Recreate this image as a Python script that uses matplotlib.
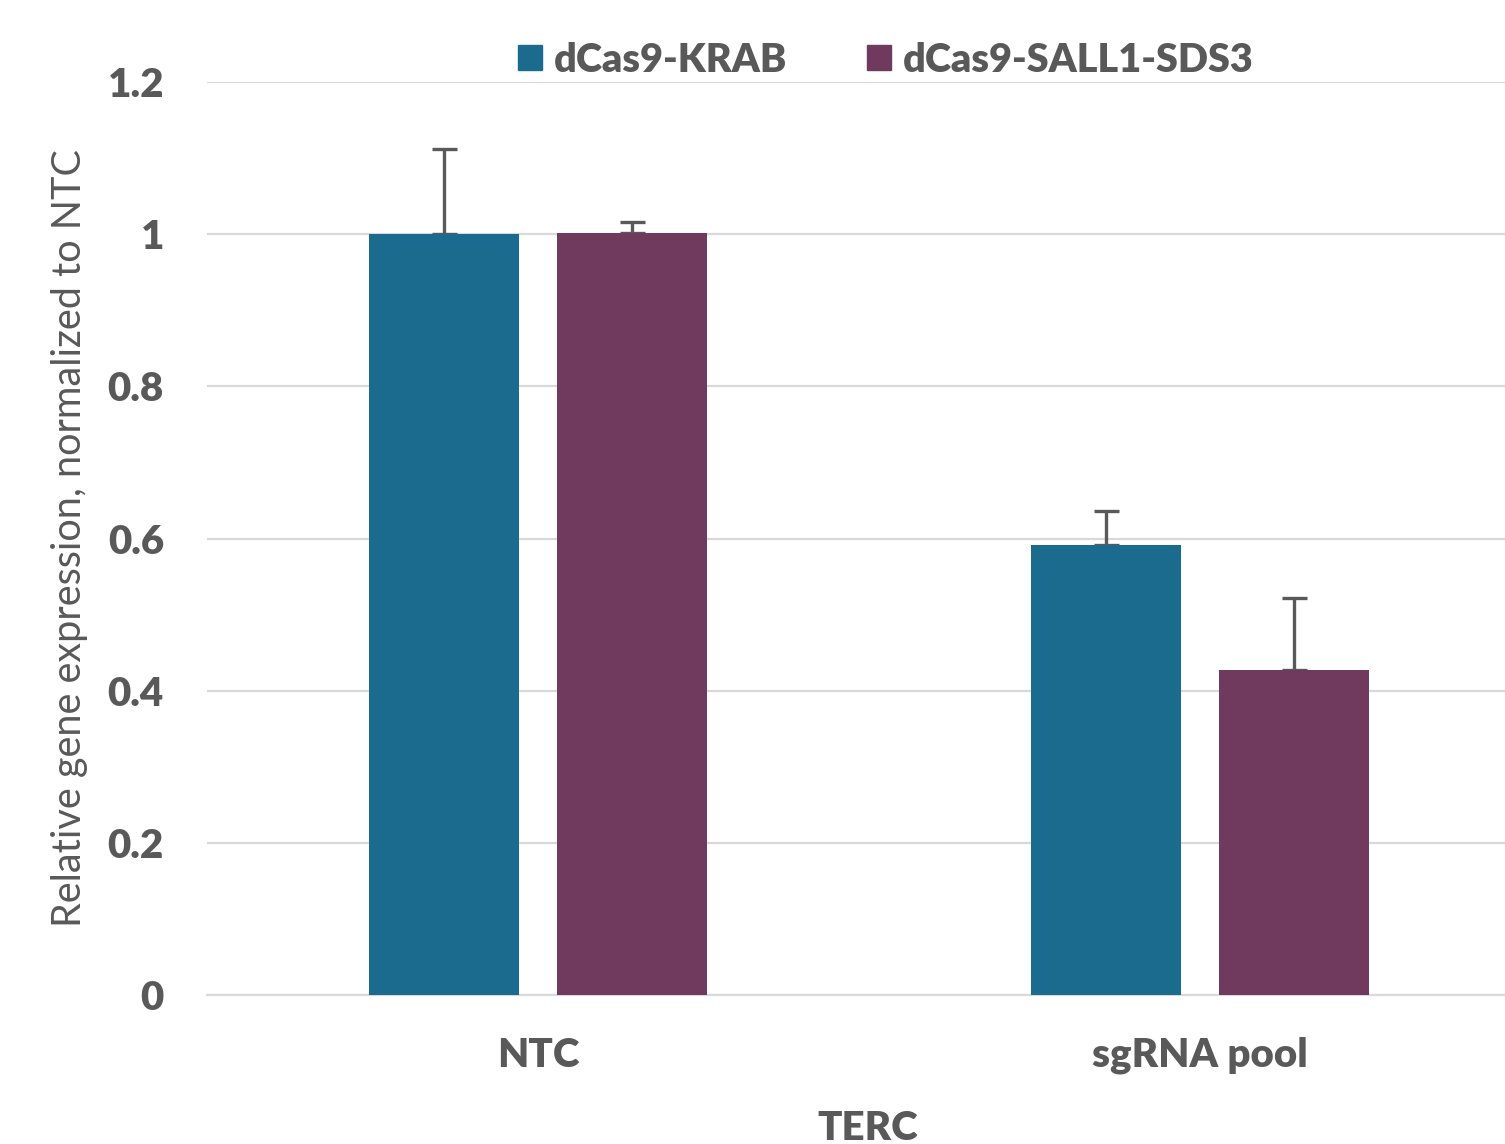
import matplotlib
matplotlib.use("Agg")
import matplotlib.pyplot as plt
from matplotlib.patches import Patch
import numpy as np

categories = ["NTC", "sgRNA pool"]
series_names = ["dCas9-KRAB", "dCas9-SALL1-SDS3"]
krab = [1.0, 0.591]
krab_err = [0.112, 0.045]
sall = [1.002, 0.427]
sall_err = [0.014, 0.095]
yticks = [0, 0.2, 0.4, 0.6, 0.8, 1.0, 1.2]
ytick_labels = ["0", "0.2", "0.4", "0.6", "0.8", "1", "1.2"]

plt.rcParams['font.family'] = ['Lato', 'DejaVu Sans']
gray = "#595959"
c1 = "#1B6B8E"
c2 = "#70395E"

fig = plt.figure(figsize=(15.05, 11.44), dpi=100)
ax = fig.add_axes([207/1505, 149/1144, 1324/1505, (995-82)/1144])
x = np.arange(len(categories))
w = 0.226
off = 0.142
ekw = dict(ecolor=gray, elinewidth=2.4, capsize=9, capthick=2.4)
ax.bar(x - off, krab, w, color=c1, zorder=3)
ax.bar(x + off, sall, w, color=c2, zorder=3)
ax.errorbar(x - off, krab, yerr=[np.zeros(2), krab_err], fmt='none', zorder=2, **ekw)
ax.errorbar(x + off, sall, yerr=[np.zeros(2), sall_err], fmt='none', zorder=2, **ekw)

ax.set_xlim(-0.5, 1.5)
ax.set_ylim(0, 1.2)
ax.set_yticks(yticks)
ax.set_yticklabels(ytick_labels)
ax.set_xticks(x)
ax.set_xticklabels(categories)
ax.yaxis.grid(True, color="#D9D9D9", linewidth=1.6, zorder=0)
ax.set_axisbelow(True)
for s in ["top", "right", "left"]:
    ax.spines[s].set_visible(False)
ax.spines["bottom"].set_color("#D9D9D9")
ax.spines["bottom"].set_linewidth(1.6)
ax.tick_params(axis='both', length=0, labelsize=29, labelcolor=gray)
ax.tick_params(axis='y', pad=31)
ax.tick_params(axis='x', pad=30)
for lab in ax.get_xticklabels() + ax.get_yticklabels():
    lab.set_fontweight('heavy')

fig.text(70/1505, 1 - 538/1144, "Relative gene expression, normalized to NTC", rotation=90,
         ha='center', va='center', fontsize=28.5, color=gray)
fig.text(868/1505, 1 - 1128/1144, "TERC", ha='center', va='center', fontsize=29,
         color=gray, fontweight='heavy')

handles = [Patch(color=c1), Patch(color=c2)]
leg = fig.legend(handles, series_names, loc='center', bbox_to_anchor=(886/1505, 1 - 60/1144),
                 ncol=2, frameon=False, prop={'size': 28.5, 'weight': 'heavy'},
                 handlelength=0.62, handleheight=0.62, handletextpad=0.3, columnspacing=2.0)
for t in leg.get_texts():
    t.set_color(gray)

fig.savefig("out.png", dpi=100)
